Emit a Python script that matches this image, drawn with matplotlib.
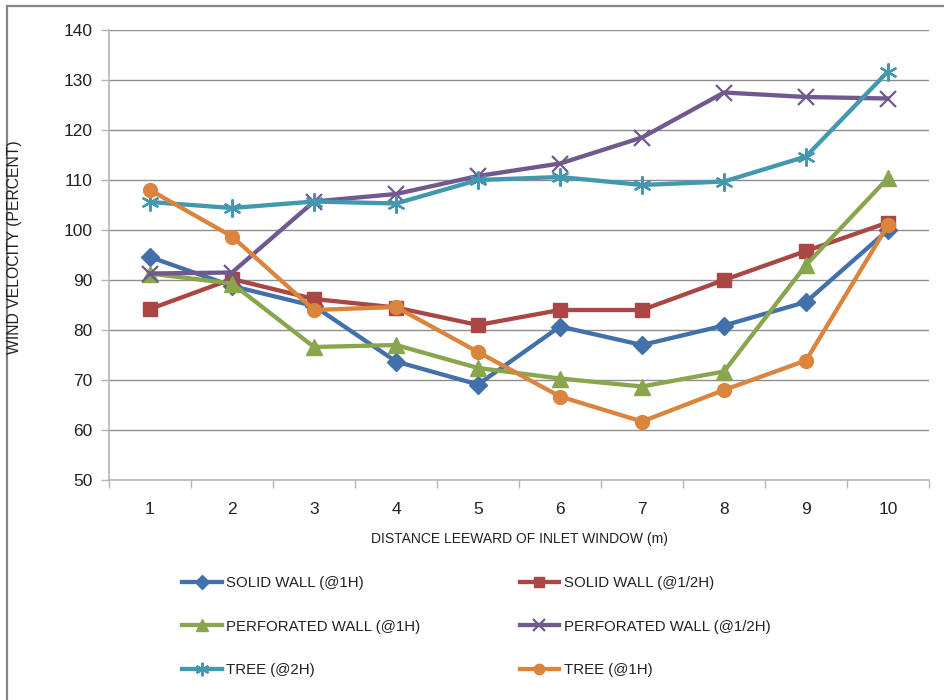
import matplotlib.pyplot as plt
from matplotlib.patches import Rectangle
from matplotlib.ticker import MultipleLocator, FixedLocator

plt.rcParams['font.family'] = ['Liberation Sans', 'DejaVu Sans']

# Wind velocity (% of reference) at each distance leeward of the inlet window
distance = [1, 2, 3, 4, 5, 6, 7, 8, 9, 10]
solid_1h = [94.6, 88.8, 84.8, 73.7, 69.1, 80.7, 77.0, 80.9, 85.6, 100.0]
solid_half_h = [84.2, 90.2, 86.2, 84.5, 81.0, 84.0, 84.0, 90.0, 95.8, 101.5]
perforated_1h = [91.3, 89.3, 76.6, 77.0, 72.4, 70.3, 68.7, 71.7, 93.0, 110.4]
perforated_half_h = [91.3, 91.5, 105.7, 107.2, 110.8, 113.3, 118.5, 127.5, 126.6, 126.3]
tree_2h = [105.6, 104.4, 105.7, 105.3, 110.0, 110.6, 109.0, 109.7, 114.7, 131.7]
tree_1h = [108.0, 98.7, 84.0, 84.6, 75.6, 66.7, 61.7, 68.0, 73.9, 101.0]

series = [
    ("SOLID WALL (@1H)", solid_1h, "#4170AA", "D", 9),
    ("SOLID WALL (@1/2H)", solid_half_h, "#AA4643", "s", 10),
    ("PERFORATED WALL (@1H)", perforated_1h, "#89A54E", "^", 11),
    ("PERFORATED WALL (@1/2H)", perforated_half_h, "#71588F", "x", 11),
    ("TREE (@2H)", tree_2h, "#4198AF", (6, 2, 0), 13),
    ("TREE (@1H)", tree_1h, "#DB843D", "o", 10),
]

fig = plt.figure(figsize=(9.45, 7), dpi=100)
ax = fig.add_axes([109 / 945, 220 / 700, 820 / 945, 450 / 700])

handles = []
for label, vals, color, marker, ms in series:
    if marker in ("x", (6, 2, 0)):
        h, = ax.plot(distance, vals, color=color, lw=3.1, marker=marker, ms=ms,
                     mew=1.6, label=label, zorder=3)
    else:
        h, = ax.plot(distance, vals, color=color, lw=3.1, marker=marker, ms=ms,
                     mec=color, label=label, zorder=3)
    handles.append(h)

ax.set_xlim(0.5, 10.5)
ax.set_ylim(50, 140)
ax.yaxis.set_major_locator(MultipleLocator(10))
ax.xaxis.set_major_locator(FixedLocator(distance))
ax.xaxis.set_minor_locator(FixedLocator([x + 0.5 for x in range(0, 11)]))
ax.tick_params(axis='x', which='major', length=0, pad=16, labelsize=12.5, colors='#222222')
ax.tick_params(axis='x', which='minor', length=6, width=1, color='#b5b5b5', direction='out')
ax.tick_params(axis='y', which='major', length=6, width=1, color='#b5b5b5',
               pad=6, labelsize=12.5, labelcolor='#222222')

ax.grid(axis='y', color='#8e8e8e', lw=1, zorder=0)
ax.set_axisbelow(True)
for side in ['top', 'right']:
    ax.spines[side].set_visible(False)
for side in ['left', 'bottom']:
    ax.spines[side].set_color('#b5b5b5')
    ax.spines[side].set_linewidth(1.2)

ax.set_xlabel("DISTANCE LEEWARD OF INLET WINDOW (m)", fontsize=10, labelpad=11, color='#222222')
fig.text(15 / 945, 1 - 247 / 700, "WIND VELOCITY (PERCENT)", rotation=90,
         fontsize=11.3, ha='center', va='center', color='#222222')

# legend filled row by row: two entries per row
order = [0, 2, 4, 1, 3, 5]
leg = fig.legend([handles[i] for i in order], [series[i][0] for i in order],
                 ncol=2, loc='upper left', bbox_to_anchor=(182 / 945, 1 - 576 / 700),
                 frameon=False, fontsize=10.8, handlelength=2.65, handletextpad=0.3,
                 columnspacing=6.6, labelspacing=1.98, markerscale=0.75, borderpad=0,
                 borderaxespad=0)
for t in leg.get_texts():
    t.set_color('#222222')

# outer frame around the chart
fig.patches.append(Rectangle((7 / 945, -0.05), 1.1, 1 - 6 / 700 + 0.05,
                             transform=fig.transFigure, fill=False,
                             edgecolor='#858585', lw=1.6))

fig.savefig("out.png", dpi=100, facecolor='white')
